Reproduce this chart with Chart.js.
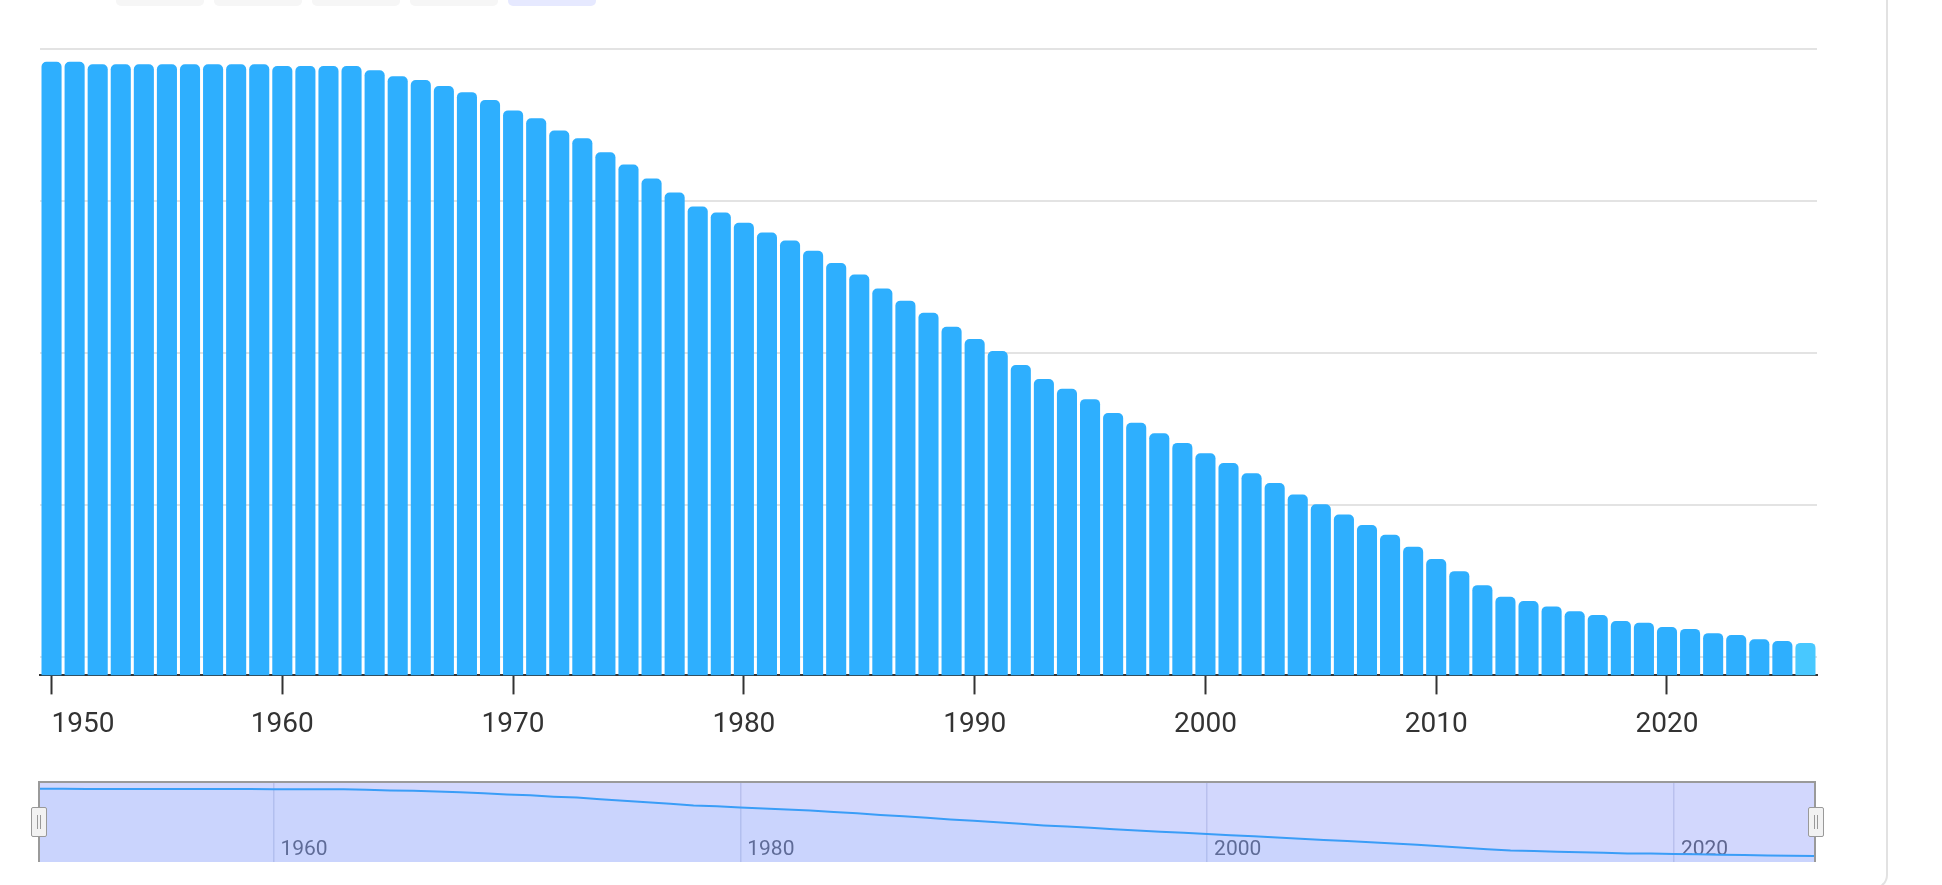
<!DOCTYPE html>
<html>
<head>
<meta charset="utf-8">
<script src="https://cdn.jsdelivr.net/npm/chart.js@4.4.1/dist/chart.umd.min.js"></script>
<style>
html, body { margin: 0; padding: 0; background: #fff; overflow: hidden; }
#wrap { position: relative; width: 1942px; height: 885px; overflow: hidden; font-family: Roboto, sans-serif; }
.btn { position: absolute; top: -30px; height: 36px; width: 88px; border-radius: 5px; background: #f6f6f6; }
.btn.on { background: #e6e9ff; }
#card { position: absolute; left: -20px; top: -20px; width: 1908px; height: 909px; box-sizing: border-box;
        border-right: 2px solid #e2e2e2; border-bottom: 2px solid #e2e2e2; border-bottom-right-radius: 14px; }
#mainBox { position: absolute; left: 0; top: 0; width: 1942px; height: 760px; }
#navBox { position: absolute; left: 38px; top: 781px; width: 1778px; height: 81px; box-sizing: border-box;
          background: #d2d7fd; border-top: 2px solid #9a9a9a; border-left: 2px solid #9a9a9a; border-right: 2px solid #9a9a9a; }
#navInner { position: absolute; left: 0; top: 0; width: 1774px; height: 79px; }
.handle { position: absolute; top: 807px; width: 14px; height: 28px; background: #f2f2f2; border: 1.5px solid #999; border-radius: 2px; }
.handle::before, .handle::after { content: ""; position: absolute; top: 7px; height: 14px; width: 1px; background: #999; }
.handle::before { left: 5px; }
.handle::after { left: 8px; }
</style>
</head>
<body>
<div id="wrap">
  <div id="card"></div>
  <div class="btn" style="left:116px"></div>
  <div class="btn" style="left:214px"></div>
  <div class="btn" style="left:312px"></div>
  <div class="btn" style="left:410px"></div>
  <div class="btn on" style="left:508px"></div>
  <div id="mainBox"><canvas id="mainChart"></canvas></div>
  <div id="navBox"><div id="navInner"><canvas id="navChart"></canvas></div></div>
  <div class="handle" style="left:31px"></div>
  <div class="handle" style="left:1808px"></div>
</div>
<script>
// ==================== DATA ====================

var years = [
    1950, 1951, 1952, 1953, 1954, 1955, 1956, 1957, 1958, 1959,
    1960, 1961, 1962, 1963, 1964, 1965, 1966, 1967, 1968, 1969,
    1970, 1971, 1972, 1973, 1974, 1975, 1976, 1977, 1978, 1979,
    1980, 1981, 1982, 1983, 1984, 1985, 1986, 1987, 1988, 1989,
    1990, 1991, 1992, 1993, 1994, 1995, 1996, 1997, 1998, 1999,
    2000, 2001, 2002, 2003, 2004, 2005, 2006, 2007, 2008, 2009,
    2010, 2011, 2012, 2013, 2014, 2015, 2016, 2017, 2018, 2019,
    2020, 2021, 2022, 2023, 2024, 2025, 2026
];

var values = [
    97.9, 97.9, 97.5, 97.5, 97.5, 97.5, 97.5, 97.5, 97.5, 97.5,
    97.2, 97.2, 97.2, 97.2, 96.5, 95.5, 94.9, 93.9, 92.9, 91.6,
    89.9, 88.6, 86.6, 85.3, 83.0, 81.0, 78.7, 76.4, 74.1, 73.1,
    71.4, 69.8, 68.5, 66.8, 64.8, 62.9, 60.6, 58.6, 56.6, 54.3,
    52.3, 50.3, 48.0, 45.7, 44.1, 42.4, 40.1, 38.5, 36.8, 35.2,
    33.5, 31.9, 30.2, 28.6, 26.7, 25.1, 23.4, 21.7, 20.1, 18.1,
    16.1, 14.1, 11.8, 9.9, 9.2, 8.3, 7.5, 6.9, 5.9, 5.6,
    4.9, 4.6, 3.9, 3.6, 2.9, 2.6, 2.3
];

var yGridValues = [0, 25, 50, 75, 100];
var mainTickYears = [1950, 1960, 1970, 1980, 1990, 2000, 2010, 2020];
var navTickYears = [1960, 1980, 2000, 2020];

// ==================== MAIN CHART ====================

var Y_MIN = -3.05;
var BAR_COLOR = "#2eaffe";
var LAST_BAR_COLOR = "#48c8ff";

function isMainTick(i) {
    return mainTickYears.indexOf(years[i]) !== -1;
}

function isNavTick(i) {
    return navTickYears.indexOf(years[i]) !== -1;
}

var mainChart = new Chart(document.getElementById("mainChart"), {
    type: "bar",
    data: {
        labels: years,
        datasets: [{
            data: values,
            base: Y_MIN,
            backgroundColor: function(ctx) {
                return ctx.dataIndex === values.length - 1 ? LAST_BAR_COLOR : BAR_COLOR;
            },
            borderWidth: 0,
            borderRadius: { topLeft: 5, topRight: 5, bottomLeft: 0, bottomRight: 0 },
            borderSkipped: false,
            categoryPercentage: 1,
            barPercentage: 0.87
        }]
    },
    options: {
        responsive: true,
        maintainAspectRatio: false,
        animation: false,
        events: [],
        layout: { padding: { left: 40, right: 125, top: 49, bottom: 4 } },
        plugins: { legend: { display: false }, tooltip: { enabled: false } },
        scales: {
            x: {
                offset: true,
                grid: {
                    offset: false,
                    drawOnChartArea: false,
                    drawTicks: true,
                    tickLength: 19,
                    tickWidth: 2,
                    tickColor: function(ctx) {
                        return isMainTick(ctx.index) ? "#333333" : "rgba(0,0,0,0)";
                    }
                },
                border: { display: true, color: "#333333", width: 2 },
                ticks: {
                    autoSkip: false,
                    maxRotation: 0,
                    minRotation: 0,
                    align: "inner",
                    padding: 14,
                    color: "#333333",
                    font: { family: "Roboto", size: 28 },
                    callback: function(value, index) {
                        return isMainTick(index) ? String(years[index]) : "";
                    }
                }
            },
            y: {
                min: Y_MIN,
                max: 100,
                afterBuildTicks: function(axis) {
                    axis.ticks = yGridValues.map(function(v) { return { value: v }; });
                },
                grid: { color: "#e3e3e3", lineWidth: 2, drawTicks: false },
                border: { display: false },
                ticks: { display: false }
            }
        }
    }
});

// ==================== NAVIGATOR ====================

var navChart = new Chart(document.getElementById("navChart"), {
    type: "line",
    data: {
        labels: years,
        datasets: [{
            data: values,
            borderColor: "#3a9df7",
            borderWidth: 2,
            backgroundColor: "rgba(100,180,255,0.07)",
            fill: "start",
            pointRadius: 0,
            tension: 0
        }]
    },
    options: {
        responsive: true,
        maintainAspectRatio: false,
        animation: false,
        events: [],
        layout: { padding: 0 },
        plugins: { legend: { display: false }, tooltip: { enabled: false } },
        scales: {
            x: {
                offset: false,
                grid: {
                    drawTicks: false,
                    lineWidth: 1.5,
                    color: function(ctx) {
                        return isNavTick(ctx.index) ? "#b9c0ee" : "rgba(0,0,0,0)";
                    }
                },
                border: { display: false },
                ticks: {
                    autoSkip: false,
                    maxRotation: 0,
                    minRotation: 0,
                    align: "start",
                    labelOffset: 7,
                    padding: -25,
                    color: "#5f6690",
                    font: { family: "Roboto", size: 21 },
                    callback: function(value, index) {
                        return isNavTick(index) ? String(years[index]) : "";
                    }
                }
            },
            y: {
                display: false,
                min: -6.35,
                max: 106.1
            }
        }
    }
});
</script>
</body>
</html>
